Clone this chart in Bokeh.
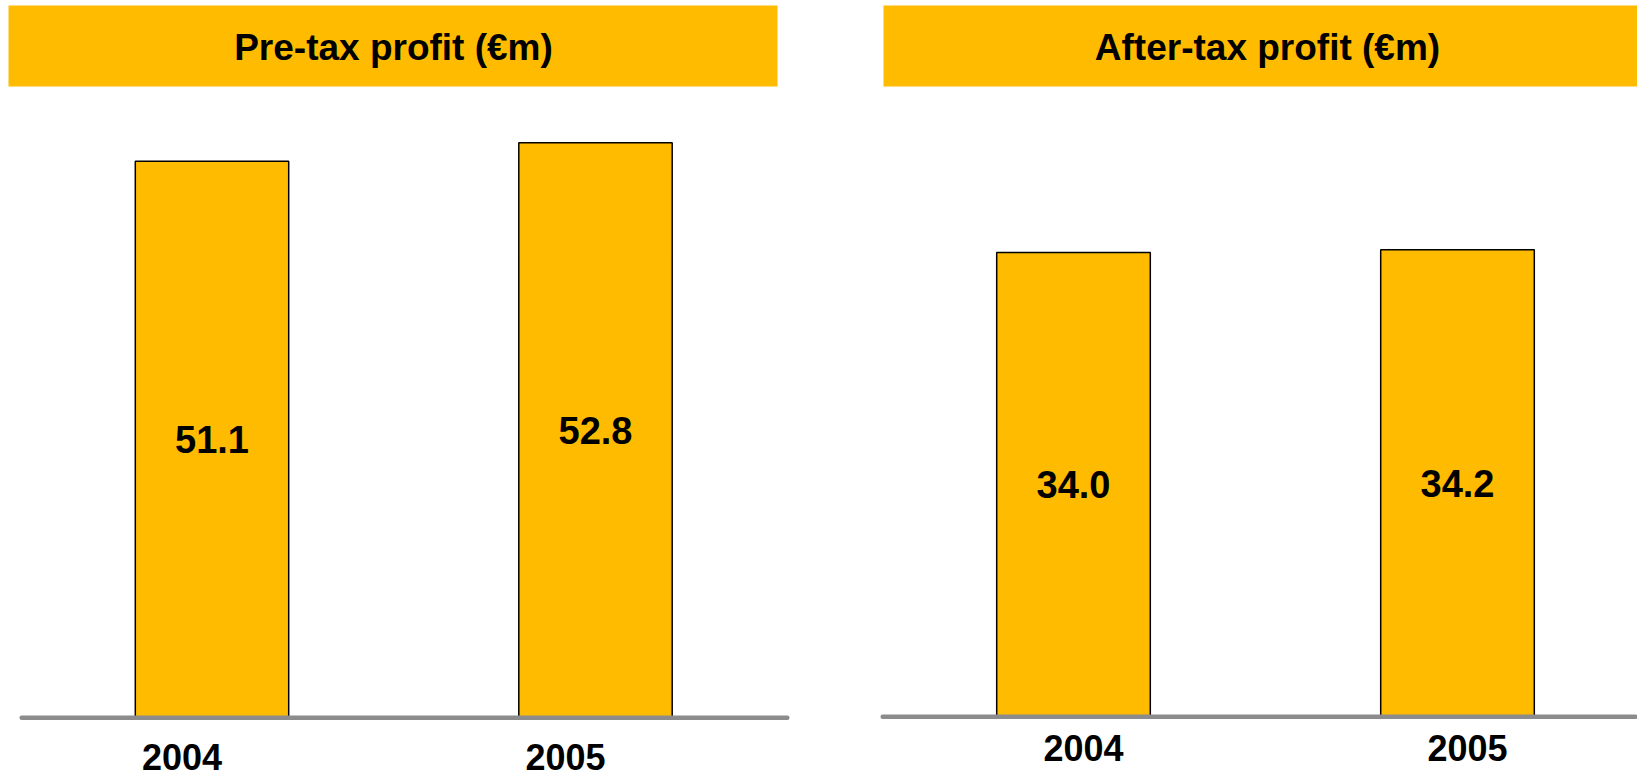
from bokeh.plotting import figure
from bokeh.layouts import row
from bokeh.models import ColumnDataSource, Range1d, BoxAnnotation, Label
from bokeh.core.properties import value
from bokeh.embed import file_html
from bokeh.resources import INLINE

# ---- data ----
years = ["2004", "2005"]
pretax = [51.1, 52.8]
aftertax = [34.0, 34.2]
titles = ["Pre-tax profit (€m)", "After-tax profit (€m)"]

GOLD = "#FFBB00"
FONT = "Liberation Sans"
H = 776


def panel(vals, title, width, x_start, px_per_unit, base_y, px_per_val,
          bar_left, bar_right, title_x, line_left, line_right, year_dx, year_dy):
    idx = list(range(len(years)))
    src = ColumnDataSource(dict(
        x=idx, top=vals, mid=[v / 2 for v in vals],
        lab=[f"{v:.1f}" for v in vals], year=years))
    x_end = x_start + width / px_per_unit
    y_start = -(H - base_y) / px_per_val
    y_end = base_y / px_per_val
    p = figure(width=width, height=H, output_backend="svg", toolbar_location=None,
               x_range=Range1d(x_start, x_end), y_range=Range1d(y_start, y_end),
               min_border_left=0, min_border_right=0,
               min_border_top=0, min_border_bottom=0, outline_line_color=None)
    p.axis.visible = False
    p.grid.visible = False
    # title bar
    p.add_layout(BoxAnnotation(left=bar_left, right=bar_right, top=5, bottom=86,
                               left_units="canvas", right_units="canvas",
                               top_units="canvas", bottom_units="canvas",
                               fill_color=GOLD, fill_alpha=1, line_color=None))
    p.add_layout(Label(x=title_x, y=47, x_units="canvas", y_units="canvas",
                       text=title, text_align="center", text_baseline="middle",
                       text_font=FONT, text_font_style="bold", text_font_size="37px",
                       text_color="black"))
    p.vbar(x="x", top="top", bottom=0, width=0.4, source=src,
           fill_color=GOLD, line_color="black", line_width=1.5)
    # baseline (grey rule)
    p.add_layout(BoxAnnotation(left=line_left, right=line_right,
                               top=base_y - 2, bottom=base_y + 2.5,
                               left_units="canvas", right_units="canvas",
                               top_units="canvas", bottom_units="canvas",
                               fill_color="#8c8c8c", fill_alpha=1, line_color=None,
                               border_radius=2, level="overlay"))
    p.text(x="x", y="mid", text="lab", source=src, text_align="center",
           text_baseline="middle", text_font=value(FONT), text_font_style="bold",
           text_font_size="38px", text_color="black")
    p.text(x="x", y=0, text="year", source=src, text_align="center",
           text_baseline="middle", x_offset=year_dx, y_offset=year_dy,
           text_font=value(FONT), text_font_style="bold",
           text_font_size="36px", text_color="black")
    return p


# left panel: bars centred at 211.5 px, 383.5 px apart; 10.885 px per €m, base at 717
p1 = panel(pretax, titles[0], 820, -211.5 / 383.5, 383.5, 717, 10.885,
           8, 777, 393, 19, 789, -30, 39)
# right panel (starts at page x=820): bars at 253 px, 384 px apart; 13.65 px per €m
p2 = panel(aftertax, titles[1], 817, -253 / 384, 384, 716, 13.65,
           63, 817, 447, 60, 817, 10, 31)

layout = row(p1, p2)
open("out.html", "w").write(file_html(layout, INLINE))
